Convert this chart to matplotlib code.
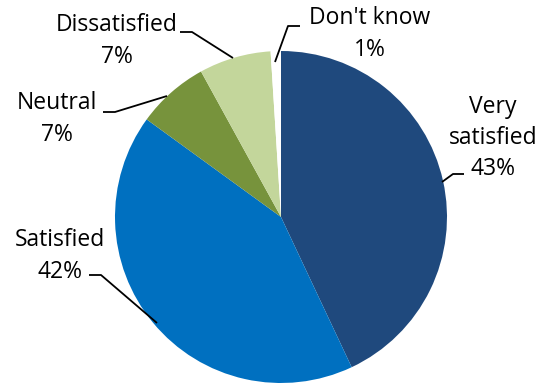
import matplotlib
matplotlib.use("Agg")
import matplotlib.pyplot as plt

categories = ["Very satisfied", "Satisfied", "Neutral", "Dissatisfied", "Don't know"]
shares = [43, 42, 7, 7, 1]
colors = ["#1F497D", "#0070C0", "#77933C", "#C3D69B", "#FFFFFF"]
label_text = ["Very\nsatisfied\n43%", "Satisfied\n42%", "Neutral\n7%", "Dissatisfied\n7%", "Don't know\n1%"]

W, H = 543, 383
fig = plt.figure(figsize=(W / 100, H / 100), dpi=100)
ax = fig.add_axes([0, 0, 1, 1])

cx, cy, r = 281, H - 217, 166
ax.pie(shares, colors=colors, startangle=90, counterclock=False,
       center=(cx, cy), radius=r, frame=True,
       wedgeprops=dict(linewidth=0))
ax.set_xlim(0, W)
ax.set_ylim(0, H)
ax.set_aspect("equal")
ax.axis("off")

# label block centres and leader lines in pixel coordinates (y from top)
label_pos = [(493, 138), (60, 256), (57, 119), (117, 41), (370, 34)]
leaders = [
    [(442, 182), (453, 174), (464, 174)],
    [(157, 323), (101, 275), (89, 275)],
    [(167, 96), (115, 112), (103, 112)],
    [(233, 58), (192, 32), (180, 32)],
    [(275, 62), (288, 26), (300, 26)],
]

for txt, (lx, ly), pts in zip(label_text, label_pos, leaders):
    ax.text(lx, H - ly, txt, ha="center", va="center", fontsize=16.5,
            family="Open Sans", linespacing=1.4, color="black")
    xs = [p[0] for p in pts]
    ys = [H - p[1] for p in pts]
    ax.plot(xs, ys, color="black", lw=1.3, solid_capstyle="butt")

fig.savefig("out.png", dpi=100, facecolor="white")
